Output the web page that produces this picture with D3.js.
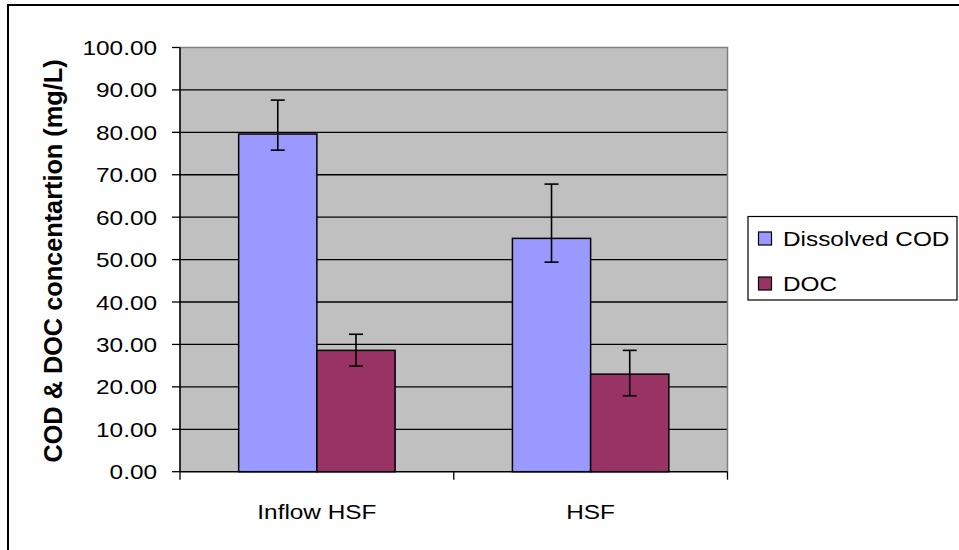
<!DOCTYPE html>
<html><head><meta charset="utf-8">
<script src="https://cdn.jsdelivr.net/npm/d3@7"></script>
<style>body{margin:0;background:#fff}svg{display:block}text{font-family:Arial,"Liberation Sans",sans-serif}</style>
</head><body>
<svg id="c" width="959" height="550"></svg>
<script>
const categories = ["Inflow HSF", "HSF"];
const seriesNames = ["Dissolved COD", "DOC"];
const dissolvedCOD = [79.6, 55.0];
const dissolvedCODUpper = [87.6, 67.8];
const dissolvedCODLower = [75.8, 49.4];
const doc = [28.6, 23.0];
const docUpper = [32.4, 28.6];
const docLower = [24.9, 17.9];
const yTicks = [0, 10, 20, 30, 40, 50, 60, 70, 80, 90, 100];
const yTitle = "COD & DOC concentartion (mg/L)";
const colors = ["#9999FF", "#993366"];

const svg = d3.select("#c");
const L = 180, R = 727.5, T = 47.5, B = 471.7;
const SX = 1.16;

svg.append("rect").attr("x", 8).attr("y", 5).attr("width", 960).attr("height", 560)
  .attr("fill", "#fff").attr("stroke", "#000").attr("stroke-width", 2);

const x = d3.scaleBand().domain(categories).range([L, R]).paddingInner(0).paddingOuter(0);
const y = d3.scaleLinear().domain([0, 100]).range([B, T]);
const x1 = d3.scaleBand().domain(seriesNames).range([0, x.bandwidth()]).paddingInner(0).paddingOuter(0.75);

svg.append("rect").attr("x", L).attr("y", T).attr("width", R - L).attr("height", B - T).attr("fill", "#C0C0C0");
// gridlines
svg.append("g").selectAll("line").data(yTicks.filter(d => d > 0 && d < 100)).join("line")
  .attr("x1", L).attr("x2", R).attr("y1", d => y(d)).attr("y2", d => y(d))
  .attr("stroke", "#000").attr("stroke-width", 1.3);
// plot border top/right
svg.append("path").attr("d", `M${L},${T}H${R}V${B}`).attr("fill", "none").attr("stroke", "#808080").attr("stroke-width", 1.5);

const data = categories.map((c, i) => [
  {c, s: seriesNames[0], v: dissolvedCOD[i], hi: dissolvedCODUpper[i], lo: dissolvedCODLower[i], col: colors[0]},
  {c, s: seriesNames[1], v: doc[i], hi: docUpper[i], lo: docLower[i], col: colors[1]}
]).flat();

svg.append("g").selectAll("rect").data(data).join("rect")
  .attr("x", d => x(d.c) + x1(d.s)).attr("width", x1.bandwidth())
  .attr("y", d => y(d.v)).attr("height", d => y(0) - y(d.v))
  .attr("fill", d => d.col).attr("stroke", "#000").attr("stroke-width", 1.5);

// error bars
const eb = svg.append("g").attr("stroke", "#000").attr("stroke-width", 1.6);
data.forEach(d => {
  const cx = x(d.c) + x1(d.s) + x1.bandwidth() / 2;
  eb.append("line").attr("x1", cx).attr("x2", cx).attr("y1", y(d.hi)).attr("y2", y(d.lo));
  eb.append("line").attr("x1", cx - 7).attr("x2", cx + 7).attr("y1", y(d.hi)).attr("y2", y(d.hi));
  eb.append("line").attr("x1", cx - 7).attr("x2", cx + 7).attr("y1", y(d.lo)).attr("y2", y(d.lo));
});

// axes
const yAxis = svg.append("g").attr("transform", `translate(${L},0)`);
yAxis.append("line").attr("x1", 0).attr("x2", 0).attr("y1", T).attr("y2", B).attr("stroke", "#000").attr("stroke-width", 1.6);
yAxis.selectAll("line.t").data(yTicks).join("line").attr("class", "t")
  .attr("x1", -8).attr("x2", 0).attr("y1", d => y(d)).attr("y2", d => y(d)).attr("stroke", "#000").attr("stroke-width", 1.3);
yAxis.selectAll("text").data(yTicks).join("text")
  .attr("transform", d => `translate(-23,${y(d) + 7.5}) scale(${SX},1)`)
  .attr("text-anchor", "end").attr("font-size", 21).attr("fill", "#000")
  .text(d => d3.format(".2f")(d));

const xAxis = svg.append("g");
xAxis.append("line").attr("x1", L).attr("x2", R).attr("y1", B).attr("y2", B).attr("stroke", "#000").attr("stroke-width", 1.6);
xAxis.selectAll("line.t").data([L, ...categories.map(c => x(c) + x.bandwidth())]).join("line").attr("class", "t")
  .attr("x1", d => d).attr("x2", d => d).attr("y1", B).attr("y2", B + 8).attr("stroke", "#000").attr("stroke-width", 1.3);
xAxis.selectAll("text").data(categories).join("text")
  .attr("transform", d => `translate(${x(d) + x.bandwidth() / 2},${B + 47.5}) scale(${SX},1)`)
  .attr("text-anchor", "middle").attr("font-size", 21).attr("fill", "#000").text(d => d);

svg.append("text")
  .attr("transform", `translate(61.5,261) rotate(-90) scale(1.1,1.12)`)
  .attr("text-anchor", "middle").attr("font-size", 23).attr("font-weight", "bold").attr("fill", "#000")
  .text(yTitle);

// legend
const lg = svg.append("g");
lg.append("rect").attr("x", 748).attr("y", 216.5).attr("width", 209).attr("height", 83.5)
  .attr("fill", "#fff").attr("stroke", "#000").attr("stroke-width", 1.2);
seriesNames.forEach((s, i) => {
  const yy = 232 + i * 45;
  lg.append("rect").attr("x", 758.5).attr("y", yy).attr("width", 13).attr("height", 13)
    .attr("fill", colors[i]).attr("stroke", "#000").attr("stroke-width", 1.2);
  lg.append("text").attr("transform", `translate(783,${yy + 14}) scale(${SX},1)`)
    .attr("font-size", 21).attr("fill", "#000").text(s);
});
</script>
</body></html>
